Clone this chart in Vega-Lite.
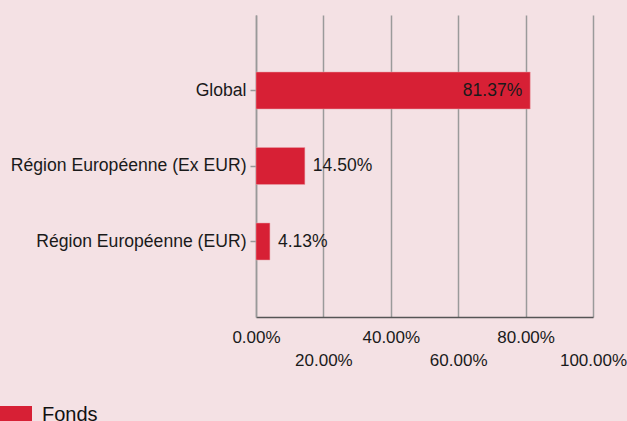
{
  "$schema": "https://vega.github.io/schema/vega-lite/v6.json",
  "autosize": "none",
  "width": 337,
  "height": 302,
  "padding": {"left": 256, "top": 15, "right": 34, "bottom": 104},
  "background": "#F4E1E4",
  "config": {
    "view": {"stroke": null},
    "font": "Liberation Sans",
    "axis": {"labelFont": "Liberation Sans", "labelFontSize": 17, "labelColor": "#1a1a1a", "titleFont": "Liberation Sans", "labelLimit": 0},
    "legend": {"labelFont": "Liberation Sans"}
  },
  "data": {
    "values": [
      {"region": "Global", "value": 0.8137, "series": "Fonds"},
      {"region": "Région Européenne (Ex EUR)", "value": 0.145, "series": "Fonds"},
      {"region": "Région Européenne (EUR)", "value": 0.0413, "series": "Fonds"}
    ]
  },
  "encoding": {
    "y": {
      "field": "region",
      "type": "nominal",
      "sort": null,
      "scale": {"paddingInner": 0.51, "paddingOuter": 0.755},
      "axis": {
        "title": null,
        "domainColor": "#999999",
        "domainWidth": 1.5,
        "tickColor": "#999999",
        "tickSize": 6,
        "tickWidth": 1.5,
        "labelPadding": 4,
        "labelFontSize": 17.6,
        "labelLimit": 0,
        "grid": false
      }
    },
    "x": {
      "field": "value",
      "type": "quantitative",
      "scale": {"domain": [0, 1], "nice": false},
      "axis": {
        "title": null,
        "format": ".2%",
        "values": [0, 0.2, 0.4, 0.6, 0.8, 1.0],
        "grid": true,
        "gridColor": "#9a9a9a",
        "gridWidth": 1.5,
        "ticks": false,
        "domainColor": "#555555",
        "domainWidth": 1.5,
        "labelPadding": 12,
        "labelFlush": false,
        "labelOverlap": false,
        "labelLineHeight": 23,
        "labelExpr": "round(datum.value * 5) % 2 === 1 ? ['', datum.label] : datum.label"
      }
    }
  },
  "layer": [
    {
      "mark": {"type": "bar", "stroke": "#e8a0a8", "strokeWidth": 0.5},
      "encoding": {
        "color": {
          "field": "series",
          "type": "nominal",
          "scale": {"range": ["#D72035"]},
          "legend": {
            "title": null,
            "orient": "none",
            "legendX": -256,
            "legendY": 384,
            "symbolType": "M-1,-0.5625H1V0.5625H-1Z",
            "symbolSize": 1024,
            "symbolStrokeWidth": 0,
            "labelFontSize": 20,
            "labelColor": "#111111",
            "labelOffset": 10,
            "padding": 0
          }
        }
      }
    },
    {
      "transform": [{"filter": "datum.value > 0.5"}],
      "mark": {"type": "text", "align": "right", "dx": -8, "fontSize": 17.5, "color": "#1a1a1a", "baseline": "middle"},
      "encoding": {"text": {"field": "value", "type": "quantitative", "format": ".2%"}}
    },
    {
      "transform": [{"filter": "datum.value <= 0.5"}],
      "mark": {"type": "text", "align": "left", "dx": 8, "fontSize": 17.5, "color": "#1a1a1a", "baseline": "middle"},
      "encoding": {"text": {"field": "value", "type": "quantitative", "format": ".2%"}}
    }
  ]
}
